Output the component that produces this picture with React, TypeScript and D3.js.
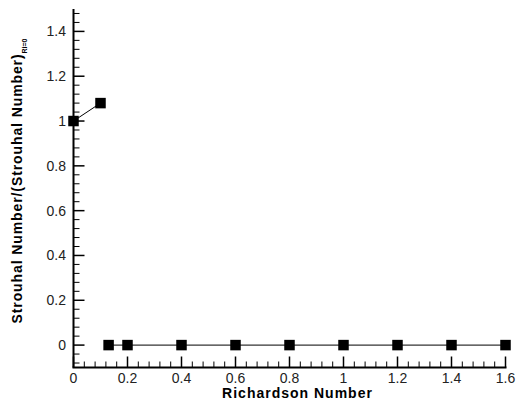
import React from "react";
import * as d3 from "d3";

const seriesAx = [0, 0.1];
const seriesAy = [1, 1.08];
const seriesBx = [0.13, 0.2, 0.4, 0.6, 0.8, 1.0, 1.2, 1.4, 1.6];
const seriesBy = [0, 0, 0, 0, 0, 0, 0, 0, 0];
const xTicks = [0, 0.2, 0.4, 0.6, 0.8, 1, 1.2, 1.4, 1.6];
const yTicks = [0, 0.2, 0.4, 0.6, 0.8, 1, 1.2, 1.4];

const W = 518, H = 401;
const FONT = "'Liberation Sans', Arial, sans-serif";

export default function App() {
  const x = d3.scaleLinear().domain([0, 1.6]).range([73.5, 505.5]);
  const y = d3.scaleLinear().domain([-0.1, 1.5]).range([367.5, 9]);
  const line = d3.line<[number, number]>().x(d => x(d[0])).y(d => y(d[1]));
  const A: [number, number][] = seriesAx.map((v, i) => [v, seriesAy[i]]);
  const B: [number, number][] = seriesBx.map((v, i) => [v, seriesBy[i]]);
  const xMinor = d3.range(0, 1.6001, 0.04).filter(v => Math.abs(v / 0.2 - Math.round(v / 0.2)) > 0.01);
  const yMinor = d3.range(-0.08, 1.5001, 0.04).filter(v => Math.abs(v / 0.2 - Math.round(v / 0.2)) > 0.01);
  const ms = 10.5;
  return (
    <svg width={W} height={H} style={{ position: "absolute", left: 0, top: 0, background: "#fff" }}>
      <g stroke="#000" strokeWidth={1}>
        {xMinor.map((v, i) => <line key={"xm" + i} x1={x(v)} x2={x(v)} y1={y(-0.1)} y2={y(-0.1) - 6} />)}
        {xTicks.map((v, i) => <line key={"xM" + i} x1={x(v)} x2={x(v)} y1={y(-0.1)} y2={y(-0.1) - 11} strokeWidth={1.5} />)}
        {yMinor.map((v, i) => <line key={"ym" + i} x1={x(0)} x2={x(0) + 6} y1={y(v)} y2={y(v)} />)}
        {yTicks.map((v, i) => <line key={"yM" + i} x1={x(0)} x2={x(0) + 11} y1={y(v)} y2={y(v)} strokeWidth={1.5} />)}
        <line x1={x(0)} x2={x(0)} y1={y(-0.1)} y2={y(1.5)} strokeWidth={2} />
        <line x1={x(0) - 1} x2={x(1.6) + 1} y1={y(-0.1)} y2={y(-0.1)} strokeWidth={2} />
      </g>
      <path d={line(A) || ""} fill="none" stroke="#000" strokeWidth={1} />
      <path d={line(B) || ""} fill="none" stroke="#000" strokeWidth={1} />
      {[...A, ...B].map((d, i) => (
        <rect key={"p" + i} x={x(d[0]) - ms / 2} y={y(d[1]) - ms / 2} width={ms} height={ms} fill="#000" />
      ))}
      <g fontFamily={FONT} fontSize={14} fill="#222">
        {xTicks.map((v, i) => (
          <text key={"xt" + i} x={x(v)} y={383} textAnchor="middle">{String(v)}</text>
        ))}
        {yTicks.map((v, i) => (
          <text key={"yt" + i} x={66} y={y(v) + 5} textAnchor="end">{String(v)}</text>
        ))}
      </g>
      <text x={x(0.8) + 8} y={398} textAnchor="middle" fontFamily={FONT} fontSize={14} fontWeight="bold" letterSpacing={1}>
        Richardson Number
      </text>
      <text transform="translate(22,181) rotate(-90)" textAnchor="middle" fontFamily={FONT} fontSize={14} fontWeight="bold" letterSpacing={0.9}>
        Strouhal Number/(Strouhal Number)
        <tspan fontSize={7} dy={5} letterSpacing={0}>Ri=0</tspan>
      </text>
    </svg>
  );
}
